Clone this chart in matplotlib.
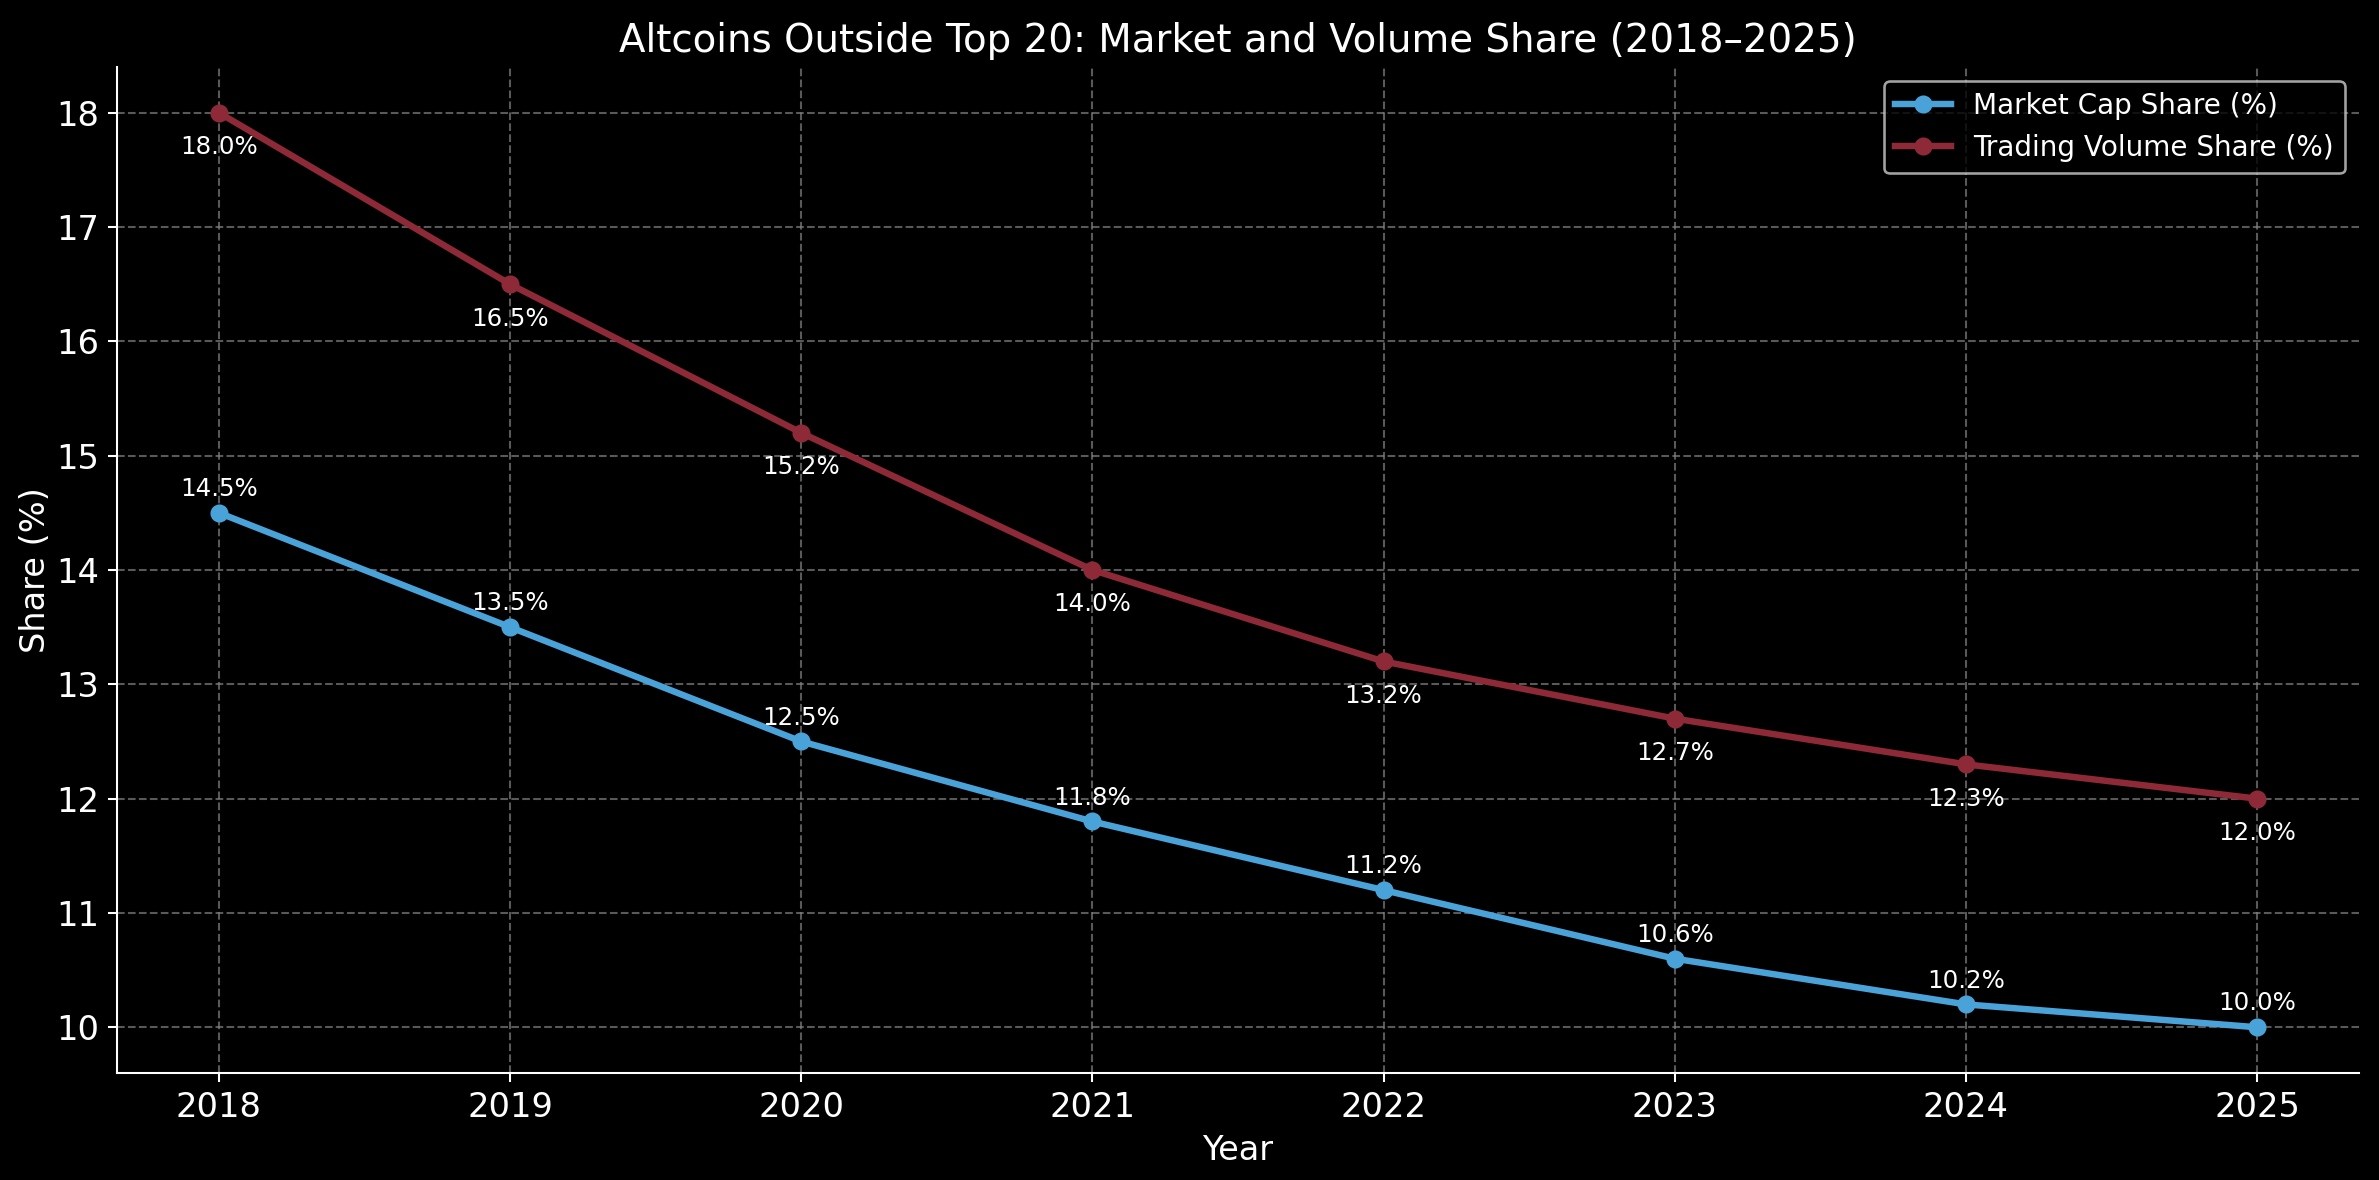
import matplotlib
matplotlib.use("Agg")
import matplotlib.pyplot as plt

plt.style.use("dark_background")

years = [2018, 2019, 2020, 2021, 2022, 2023, 2024, 2025]
market_cap_share = [14.5, 13.5, 12.5, 11.8, 11.2, 10.6, 10.2, 10.0]
volume_share = [18.0, 16.5, 15.2, 14.0, 13.2, 12.7, 12.3, 12.0]

blue = "#4aa3d8"
red = "#8e2a37"

DPI = 186
fig, ax = plt.subplots(figsize=(2379 / DPI, 1180 / DPI), dpi=DPI)
ax.plot(years, market_cap_share, color=blue, linewidth=2.5, marker="o", markersize=6,
        label="Market Cap Share (%)")
ax.plot(years, volume_share, color=red, linewidth=2.5, marker="o", markersize=6,
        label="Trading Volume Share (%)")

for x, y in zip(years, market_cap_share):
    ax.annotate(f"{y:.1f}%", (x, y), textcoords="offset points", xytext=(0, 6.5),
                ha="center", fontsize=9.5, color="white")
for x, y in zip(years, volume_share):
    ax.annotate(f"{y:.1f}%", (x, y), textcoords="offset points", xytext=(0, -16),
                ha="center", fontsize=9.5, color="white")

ax.set_title("Altcoins Outside Top 20: Market and Volume Share (2018–2025)", fontsize=15)
ax.set_xlabel("Year", fontsize=13)
ax.set_ylabel("Share (%)", fontsize=13, labelpad=1.5)
ax.set_xticks(years)
ax.tick_params(labelsize=13)
ax.grid(True, linestyle="--", color="gray", alpha=0.7, linewidth=0.8)
ax.spines["top"].set_visible(False)
ax.spines["right"].set_visible(False)
ax.legend(loc="upper right", fontsize=10.8)

fig.subplots_adjust(left=117 / 2379, right=2359 / 2379, top=1 - 67 / 1180, bottom=1 - 1073 / 1180)
fig.savefig("out.png", dpi=DPI)
